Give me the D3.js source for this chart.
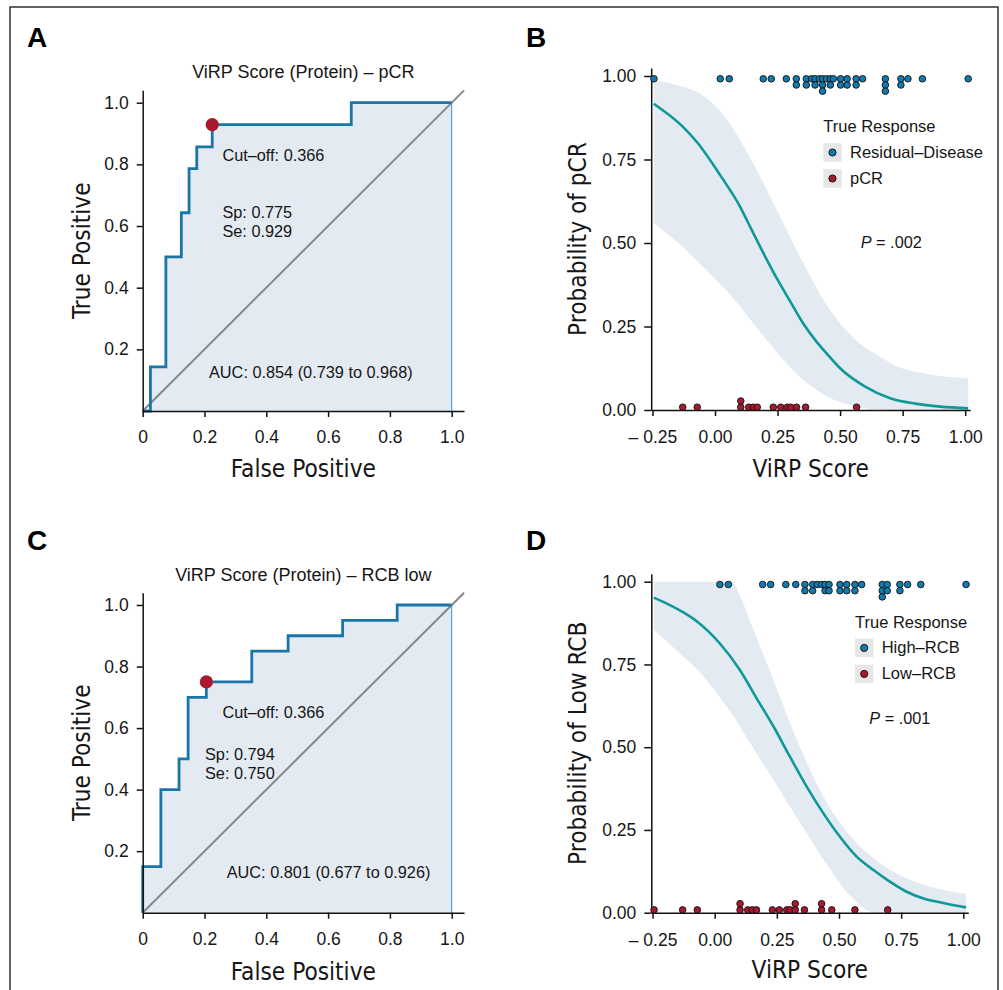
<!DOCTYPE html>
<html>
<head>
<meta charset="utf-8">
<script src="https://cdn.jsdelivr.net/npm/d3@7"></script>
<style>
  body { margin: 0; background: #fff; }
  svg text { font-family: "Liberation Sans", Arial, Helvetica, sans-serif; fill: #161616; }
  svg .axis-title { font-family: "Liberation Sans Narrow", "Arial Narrow", "DejaVu Sans Condensed", sans-serif; }
</style>
</head>
<body>
<svg id="fig" width="1003" height="990"></svg>
<script>
// ---------- ROC curves (step vertices: false positive rate, true positive rate) ----------
const pcrRocFpr = [0, 0.025, 0.075, 0.125, 0.15, 0.175, 0.225, 0.675, 1.0];
const pcrRocTpr = [0, 0.143, 0.5, 0.643, 0.786, 0.857, 0.929, 1.0, 1.0];
const pcrCutoff = { fpr: 0.225, tpr: 0.929 };

const rcbRocFpr = [0, 0, 0.0588, 0.1176, 0.147, 0.206, 0.353, 0.4706, 0.647, 0.8235, 1.0];
const rcbRocTpr = [0, 0.15, 0.4, 0.5, 0.7, 0.75, 0.85, 0.9, 0.95, 1.0, 1.0];
const rcbCutoff = { fpr: 0.206, tpr: 0.75 };

const rocXTicks = [0, 0.2, 0.4, 0.6, 0.8, 1.0];
const rocYTicks = [0.2, 0.4, 0.6, 0.8, 1.0];

// ---------- Logistic fits: ViRP score vs probability ----------
const pcrFitX = [-0.245, -0.13, -0.07, 0.02, 0.1, 0.15, 0.2, 0.25, 0.3, 0.35, 0.4, 0.45, 0.5, 0.6, 0.7, 0.8, 0.9, 1.012];
const pcrFitP = [0.917, 0.849, 0.80, 0.704, 0.609, 0.534, 0.46, 0.39, 0.326, 0.262, 0.21, 0.166, 0.125, 0.07, 0.035, 0.019, 0.010, 0.005];
const pcrBandX = [-0.245, -0.15, -0.05, 0.05, 0.15, 0.25, 0.35, 0.45, 0.55, 0.65, 0.75, 0.85, 0.95, 1.012];
const pcrBandLow = [0.559, 0.502, 0.431, 0.354, 0.263, 0.170, 0.092, 0.040, 0.013, 0.002, 0, 0, 0, 0];
const pcrBandHigh = [0.987, 0.972, 0.942, 0.867, 0.742, 0.594, 0.444, 0.310, 0.218, 0.164, 0.124, 0.108, 0.098, 0.095];

const rcbFitX = [-0.245, -0.13, -0.07, 0.02, 0.1, 0.17, 0.24, 0.3, 0.37, 0.44, 0.5, 0.57, 0.64, 0.7, 0.77, 0.84, 0.91, 1.011];
const rcbFitP = [0.952, 0.909, 0.879, 0.814, 0.735, 0.646, 0.558, 0.475, 0.381, 0.297, 0.233, 0.170, 0.128, 0.096, 0.064, 0.043, 0.031, 0.016];
const rcbBandX = [-0.245, -0.15, -0.05, 0.05, 0.07, 0.1, 0.15, 0.25, 0.35, 0.45, 0.55, 0.65, 0.75, 0.85, 0.95, 1.011];
const rcbBandLow = [0.855, 0.79, 0.718, 0.62, 0.60, 0.564, 0.504, 0.384, 0.264, 0.146, 0.047, 0, 0, 0, 0, 0];
const rcbBandHigh = [1.0, 1.0, 1.0, 1.0, 1.0, 0.96, 0.866, 0.676, 0.488, 0.334, 0.228, 0.158, 0.112, 0.082, 0.064, 0.057];

// ---------- Individual patient scores ----------
const residualScores = [-0.244, 0.021, 0.057, 0.193, 0.225, 0.285, 0.325, 0.325, 0.365, 0.365, 0.386,
  0.400, 0.400, 0.417, 0.430, 0.430, 0.430, 0.446, 0.461, 0.461, 0.473, 0.502, 0.502, 0.528, 0.528,
  0.564, 0.564, 0.590, 0.681, 0.681, 0.681, 0.743, 0.743, 0.771, 0.829, 1.012];
const pcrScores = [-0.129, -0.071, 0.103, 0.103, 0.135, 0.153, 0.169, 0.233, 0.263, 0.289, 0.303, 0.326, 0.362, 0.566];

const highRcbScores = [0.021, 0.055, 0.193, 0.225, 0.286, 0.326, 0.363, 0.363, 0.394, 0.394, 0.413, 0.430,
  0.444, 0.444, 0.460, 0.460, 0.504, 0.504, 0.531, 0.531, 0.564, 0.564, 0.591, 0.674, 0.674, 0.674,
  0.694, 0.694, 0.745, 0.745, 0.776, 0.829, 1.011];
const lowRcbScores = [-0.244, -0.129, -0.070, 0.102, 0.102, 0.133, 0.151, 0.168, 0.232, 0.260, 0.290, 0.303,
  0.324, 0.324, 0.361, 0.430, 0.430, 0.471, 0.564, 0.696];

const scoreTicks = [-0.25, 0, 0.25, 0.5, 0.75, 1.0];
const probTicks = [0, 0.25, 0.5, 0.75, 1.0];

// ---------- Colours ----------
const C = {
  roc: "#1a76a8", rocFill: "#e4eaf1", diag: "#878787", cut: "#a8182f",
  fit: "#0f9898", band: "#e4eaf1", blue: "#127aae", red: "#a6192e", key: "#e6e6e6", ink: "#111"
};
const AXIS_TITLE_SIZE = 24.2;

const svg = d3.select("#fig");

// outer frame
svg.append("rect").attr("x", 10).attr("y", 7).attr("width", 988).attr("height", 1000)
  .attr("fill", "none").attr("stroke", "#222").attr("stroke-width", 1.4);

// panel letters
[["A", 27, 46.7], ["B", 526, 46.7], ["C", 27, 549.7], ["D", 526, 549.7]].forEach(([t, x, y]) => {
  svg.append("text").attr("x", x).attr("y", y).text(t)
    .attr("font-size", 28).attr("font-weight", "bold").style("fill", "#000");
});

function styleAxis(g, fs) {
  g.selectAll(".domain").attr("stroke", C.ink).attr("stroke-width", 1.5);
  g.selectAll(".tick line").attr("stroke", C.ink).attr("stroke-width", 1.5);
  g.selectAll(".tick text").attr("font-size", fs).style("fill", "#161616")
    .attr("font-family", '"Liberation Sans", Arial, sans-serif');
}

// ---------- ROC panel ----------
function drawRoc(p) {
  const g = svg.append("g");
  const unitX = p.x1 - p.x0, unitY = p.y0 - p.y1;
  const x = d3.scaleLinear().domain([0, 1.04]).range([p.x0, p.x0 + 1.04 * unitX]);
  const y = d3.scaleLinear().domain([0, 1.04]).range([p.y0, p.y0 - 1.04 * unitY]);
  const pts = p.fpr.map((f, i) => [f, p.tpr[i]]);

  g.append("path").datum(pts)
    .attr("d", d3.area().curve(d3.curveStepAfter).x(d => x(d[0])).y0(y(0)).y1(d => y(d[1])))
    .attr("fill", C.rocFill);

  // right edge of the shaded region
  g.append("line").attr("x1", x(1)).attr("x2", x(1)).attr("y1", y(0)).attr("y2", y(1))
    .attr("stroke", "#3f8fbf").attr("stroke-width", 1);

  // chance diagonal
  g.append("line").attr("x1", x(0)).attr("y1", y(0)).attr("x2", x(1.04)).attr("y2", y(1.04))
    .attr("stroke", C.diag).attr("stroke-width", 2);

  g.append("path").datum(pts)
    .attr("d", d3.line().curve(d3.curveStepAfter).x(d => x(d[0])).y(d => y(d[1])))
    .attr("fill", "none").attr("stroke", C.roc).attr("stroke-width", 2.8);

  const ax = g.append("g").attr("transform", `translate(0,${y(0)})`)
    .call(d3.axisBottom(x).tickValues(rocXTicks).tickSize(6).tickPadding(14).tickSizeOuter(0)
      .tickFormat(d => d === 0 ? "0" : d3.format(".1f")(d)));
  styleAxis(ax, 17.5);
  const ay = g.append("g").attr("transform", `translate(${x(0)},0)`)
    .call(d3.axisLeft(y).tickValues(rocYTicks).tickSize(6).tickPadding(8).tickSizeOuter(0)
      .tickFormat(d3.format(".1f")));
  styleAxis(ay, 17.5);

  g.append("circle").attr("cx", x(p.cut.fpr)).attr("cy", y(p.cut.tpr)).attr("r", 6.6).attr("fill", C.cut);

  p.notes.forEach(n => {
    g.append("text").attr("x", x(n.x)).attr("y", y(n.y)).text(n.t).attr("font-size", 16.3);
  });

  g.append("text").attr("x", (x(0) + x(1.04)) / 2).attr("y", p.titleY).attr("text-anchor", "middle")
    .attr("font-size", 18).text(p.title);
  g.append("text").attr("class", "axis-title").attr("x", (x(0) + x(1.04)) / 2).attr("y", p.xTitleY)
    .attr("text-anchor", "middle").attr("font-size", AXIS_TITLE_SIZE).text("False Positive");
  g.append("text").attr("class", "axis-title")
    .attr("transform", `translate(90,${(y(0) + y(1.04)) / 2}) rotate(-90)`)
    .attr("text-anchor", "middle").attr("font-size", AXIS_TITLE_SIZE).text("True Positive");
}

drawRoc({
  fpr: pcrRocFpr, tpr: pcrRocTpr, cut: pcrCutoff,
  x0: 142.7, x1: 451.7, y0: 411, y1: 102.7,
  title: "ViRP Score (Protein) \u2013 pCR", titleY: 78.3, xTitleY: 477.3,
  notes: [
    { t: "Cut\u2013off: 0.366", x: 0.258, y: 0.812 },
    { t: "Sp: 0.775", x: 0.258, y: 0.625 },
    { t: "Se: 0.929", x: 0.258, y: 0.565 },
    { t: "AUC: 0.854 (0.739 to 0.968)", x: 0.2146, y: 0.106 }
  ]
});

drawRoc({
  fpr: rcbRocFpr, tpr: rcbRocTpr, cut: rcbCutoff,
  x0: 142.7, x1: 451.7, y0: 912.7, y1: 605,
  title: "ViRP Score (Protein) \u2013 RCB low", titleY: 581, xTitleY: 979.5,
  notes: [
    { t: "Cut\u2013off: 0.366", x: 0.258, y: 0.634 },
    { t: "Sp: 0.794", x: 0.2016, y: 0.496 },
    { t: "Se: 0.750", x: 0.2016, y: 0.4335 },
    { t: "AUC: 0.801 (0.677 to 0.926)", x: 0.272, y: 0.114 }
  ]
});

// ---------- Logistic panel ----------
function stackDots(values) {
  const counts = new Map();
  return values.map(v => {
    const k = counts.get(v) || 0;
    counts.set(v, k + 1);
    return { v, k };
  });
}

function drawLogit(p) {
  const g = svg.append("g");
  const x = d3.scaleLinear().domain([0, 1]).range([p.xZero, p.xZero + p.unitX]);
  const xs = x.copy().domain([-0.255, 1.02]).range([x(-0.255), x(1.02)]);
  const y = d3.scaleLinear().domain([0, 1.024]).range([p.y0, p.y0 - 1.024 * p.unitY]);

  g.append("path").datum(p.bandX.map((v, i) => [v, p.bandLow[i], p.bandHigh[i]]))
    .attr("d", d3.area().curve(d3.curveMonotoneX).x(d => x(d[0])).y0(d => y(d[1])).y1(d => y(d[2])))
    .attr("fill", C.band);

  g.append("path").datum(p.fitX.map((v, i) => [v, p.fitP[i]]))
    .attr("d", d3.line().curve(d3.curveMonotoneX).x(d => x(d[0])).y(d => y(d[1])))
    .attr("fill", "none").attr("stroke", C.fit).attr("stroke-width", 2.6);

  const ax = g.append("g").attr("transform", `translate(0,${y(0)})`)
    .call(d3.axisBottom(xs).tickValues(scoreTicks).tickSize(6).tickPadding(15).tickSizeOuter(0)
      .tickFormat(d => d < 0 ? "\u2013 " + d3.format(".2f")(-d) : d3.format(".2f")(d)));
  styleAxis(ax, 17.5);
  const ay = g.append("g").attr("transform", `translate(${xs(-0.255)},0)`)
    .call(d3.axisLeft(y).tickValues(probTicks).tickSize(7).tickPadding(8).tickSizeOuter(0)
      .tickFormat(d3.format(".2f")));
  styleAxis(ay, 17.5);

  const r = 3.3, gap = 6.2;
  g.selectAll(null).data(stackDots(p.zeroScores)).join("circle")
    .attr("cx", d => x(d.v)).attr("cy", d => y(0) - 2.8 - d.k * gap).attr("r", r)
    .attr("fill", C.red).attr("stroke", "#111").attr("stroke-width", 0.9);
  g.selectAll(null).data(stackDots(p.oneScores)).join("circle")
    .attr("cx", d => x(d.v)).attr("cy", d => y(1) + 2.8 + d.k * gap).attr("r", r)
    .attr("fill", C.blue).attr("stroke", "#111").attr("stroke-width", 0.9);

  // legend
  const lg = g.append("g").attr("transform", `translate(${p.legX},${p.legY})`);
  lg.append("text").attr("x", 0).attr("y", 0).attr("font-size", 16.5).text("True Response");
  [[p.oneLabel, C.blue], [p.zeroLabel, C.red]].forEach(([lab, col], i) => {
    const top = 11 + i * 26;
    lg.append("rect").attr("x", 0).attr("y", top).attr("width", 18.4).attr("height", 18.4).attr("fill", C.key);
    lg.append("circle").attr("cx", 9.2).attr("cy", top + 9.2).attr("r", 3.6)
      .attr("fill", col).attr("stroke", "#111").attr("stroke-width", 0.9);
    lg.append("text").attr("x", 26.7).attr("y", top + 14.5).attr("font-size", 16.5).text(lab);
  });

  const pt = g.append("text").attr("x", p.pX).attr("y", p.pY).attr("font-size", 16.3);
  pt.append("tspan").attr("font-style", "italic").text("P");
  pt.append("tspan").text(" = " + p.pValue);

  g.append("text").attr("class", "axis-title").attr("x", (xs(-0.255) + xs(1.02)) / 2).attr("y", p.xTitleY)
    .attr("text-anchor", "middle").attr("font-size", AXIS_TITLE_SIZE).text("ViRP Score");
  g.append("text").attr("class", "axis-title")
    .attr("transform", `translate(585.5,${(y(0) + y(1.024)) / 2}) rotate(-90)`)
    .attr("text-anchor", "middle").attr("font-size", AXIS_TITLE_SIZE).text(p.yTitle);
}

drawLogit({
  xZero: 715, unitX: 250.2, y0: 410, unitY: 334,
  fitX: pcrFitX, fitP: pcrFitP, bandX: pcrBandX, bandLow: pcrBandLow, bandHigh: pcrBandHigh,
  oneScores: residualScores, zeroScores: pcrScores,
  oneLabel: "Residual\u2013Disease", zeroLabel: "pCR",
  legX: 823.3, legY: 132.3, pX: 860.7, pY: 248.3, pValue: ".002",
  yTitle: "Probability of pCR", xTitleY: 476.7
});

drawLogit({
  xZero: 714.7, unitX: 248.6, y0: 912.7, unitY: 331,
  fitX: rcbFitX, fitP: rcbFitP, bandX: rcbBandX, bandLow: rcbBandLow, bandHigh: rcbBandHigh,
  oneScores: highRcbScores, zeroScores: lowRcbScores,
  oneLabel: "High\u2013RCB", zeroLabel: "Low\u2013RCB",
  legX: 855, legY: 627.7, pX: 869.3, pY: 724, pValue: ".001",
  yTitle: "Probability of Low RCB", xTitleY: 978.3
});
</script>
</body>
</html>
